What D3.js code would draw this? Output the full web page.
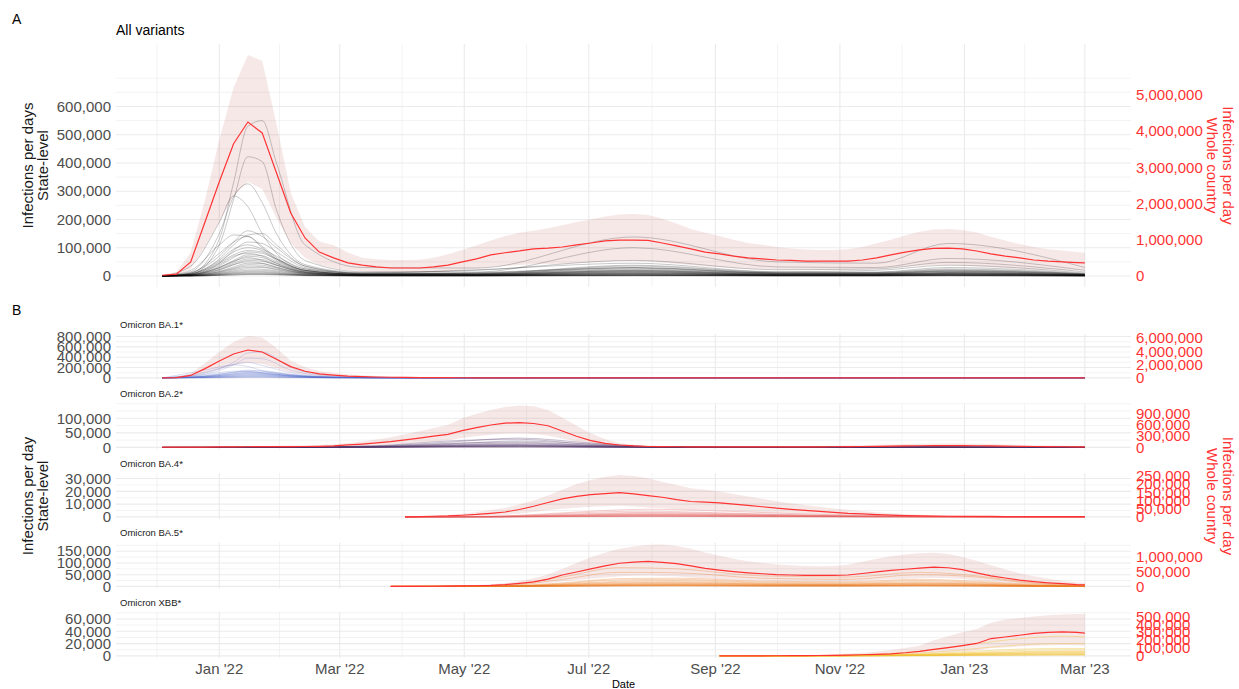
<!DOCTYPE html>
<html>
<head>
<meta charset="utf-8">
<script src="https://cdn.jsdelivr.net/npm/d3@7"></script>
<style>
  body { margin: 0; background: #fff; }
  text { font-family: "Liberation Sans", Arial, sans-serif; }
</style>
</head>
<body>
<svg id="chart" width="1239" height="689"></svg>
<script>
// ---- data -------------------------------------------------------------
// whole country series are in millions per day (weekly, Saturdays from 2021-12-04, last point 2023-03-01)
// state-level series are in thousands per day at their own key dates
const secRatio = 7.8

const xBreaks = ['2022-01-01', '2022-03-01', '2022-05-01', '2022-07-01', '2022-09-01', '2022-11-01', '2023-01-01', '2023-03-01']

const allRed = [
  0.02, 0.05, 0.39, 1.49, 2.6, 3.65, 4.25, 3.95, 2.85, 1.74,
  1.05, 0.66, 0.50, 0.36, 0.30, 0.25, 0.22, 0.22, 0.22, 0.25,
  0.30, 0.39, 0.47, 0.58, 0.64, 0.69, 0.75, 0.77, 0.80, 0.86,
  0.91, 0.97, 0.99, 0.99, 0.98, 0.91, 0.83, 0.75, 0.66, 0.61,
  0.55, 0.50, 0.47, 0.44, 0.43, 0.41, 0.41, 0.41, 0.41, 0.44,
  0.50, 0.58, 0.66, 0.72, 0.76, 0.77, 0.75, 0.69, 0.61, 0.55,
  0.50, 0.44, 0.41, 0.39, 0.37, 0.36
]
const allHigh = [
  0.03, 0.1, 0.65, 2.1, 3.76, 5.2, 6.1, 5.94, 4.2, 2.3,
  1.35, 0.95, 0.85, 0.65, 0.5, 0.46, 0.44, 0.44, 0.45, 0.5,
  0.6, 0.72, 0.85, 0.98, 1.1, 1.19, 1.25, 1.32, 1.4, 1.49,
  1.56, 1.64, 1.70, 1.71, 1.68, 1.58, 1.45, 1.3, 1.19, 1.1,
  1.0, 0.91, 0.86, 0.8, 0.76, 0.73, 0.72, 0.72, 0.74, 0.8,
  0.9, 1.0, 1.12, 1.22, 1.28, 1.3, 1.27, 1.2, 1.08, 0.98,
  0.88, 0.8, 0.74, 0.7, 0.66, 0.64
]
const allLow = [
  0.01, 0.02, 0.2, 0.8, 1.5, 2.2, 2.6, 2.4, 1.6, 0.9,
  0.5, 0.3, 0.22, 0.16, 0.13, 0.11, 0.1, 0.1, 0.1, 0.11,
  0.13, 0.17, 0.2, 0.25, 0.28, 0.3, 0.32, 0.33, 0.34, 0.36,
  0.38, 0.4, 0.41, 0.41, 0.4, 0.37, 0.34, 0.3, 0.27, 0.25,
  0.22, 0.2, 0.19, 0.18, 0.17, 0.17, 0.17, 0.17, 0.17, 0.18,
  0.2, 0.23, 0.26, 0.28, 0.3, 0.3, 0.29, 0.27, 0.24, 0.22,
  0.2, 0.18, 0.17, 0.16, 0.15, 0.15
]
const allStateDates = ['2021-12-04', '2021-12-18', '2022-01-01', '2022-01-08', '2022-01-15', '2022-01-22', '2022-01-29', '2022-02-12', '2022-03-12', '2022-05-07', '2022-07-23', '2022-10-01', '2022-11-19', '2022-12-24', '2023-03-01']
const allStates = [
  [0, 10, 130, 330, 530, 550, 400, 110, 30, 28, 138, 50, 45, 115, 30],
  [0, 6, 110, 270, 422, 405, 234, 55, 15, 14, 100, 32, 30, 62, 20],
  [0, 15, 150, 280, 326, 260, 150, 40, 12, 20, 55, 22, 25, 48, 14],
  [0, 35, 190, 283, 245, 150, 80, 25, 10, 22, 45, 15, 20, 38, 10],
  [0, 12, 70, 120, 160, 140, 100, 35, 10, 10, 38, 14, 14, 30, 8],
  [0, 20, 110, 145, 140, 100, 60, 20, 6, 12, 30, 10, 12, 25, 7],
  [0, 8, 60, 110, 145, 150, 110, 35, 9, 8, 35, 12, 12, 22, 7],
  [0, 10, 80, 120, 140, 105, 65, 20, 6, 10, 28, 10, 10, 20, 6],
  [0, 5, 45, 90, 120, 115, 85, 30, 8, 6, 30, 11, 10, 18, 6],
  [0, 8, 55, 95, 110, 95, 70, 25, 7, 8, 25, 9, 9, 17, 5],
  [0, 6, 50, 85, 100, 90, 60, 20, 6, 7, 22, 8, 8, 16, 5],
  [0, 7, 45, 75, 90, 85, 55, 18, 6, 6, 20, 8, 8, 14, 4],
  [0, 4, 35, 65, 85, 80, 60, 20, 6, 5, 19, 7, 7, 12, 4],
  [0, 5, 40, 70, 80, 70, 45, 15, 5, 6, 18, 6, 6, 12, 4],
  [0, 4, 30, 55, 75, 72, 50, 16, 5, 5, 16, 6, 6, 11, 3],
  [0, 3, 28, 50, 70, 65, 45, 14, 4, 4, 15, 5, 5, 10, 3],
  [0, 4, 30, 52, 65, 55, 38, 12, 4, 4, 14, 5, 5, 9, 3],
  [0, 3, 24, 45, 60, 58, 40, 13, 4, 4, 12, 4, 5, 8, 3],
  [0, 2, 20, 40, 55, 52, 38, 12, 3, 3, 11, 4, 4, 8, 2],
  [0, 3, 22, 40, 50, 45, 30, 10, 3, 3, 10, 4, 4, 7, 2],
  [0, 2, 16, 32, 45, 44, 32, 10, 3, 3, 9, 3, 3, 6, 2],
  [0, 2, 15, 28, 40, 38, 28, 9, 3, 2, 8, 3, 3, 6, 2],
  [0, 2, 13, 25, 35, 33, 24, 8, 2, 2, 7, 3, 3, 5, 2],
  [0, 1, 11, 22, 30, 30, 22, 7, 2, 2, 6, 2, 2, 4, 1],
  [0, 1, 9, 18, 25, 24, 18, 6, 2, 2, 5, 2, 2, 4, 1],
  [0, 1, 8, 15, 20, 20, 15, 5, 1, 1, 4, 2, 2, 3, 1],
  [0, 1, 6, 12, 16, 16, 12, 4, 1, 1, 3, 1, 1, 3, 1],
  [0, 1, 5, 10, 13, 13, 10, 3, 1, 1, 3, 1, 1, 2, 1],
  [0, 0, 4, 8, 10, 10, 8, 3, 1, 1, 2, 1, 1, 2, 0],
  [0, 0, 3, 6, 8, 8, 6, 2, 1, 1, 2, 1, 1, 1, 0],
  [0, 0, 2, 4, 6, 6, 5, 2, 0, 0, 1, 1, 1, 1, 0],
  [0, 0, 2, 3, 5, 5, 4, 1, 0, 0, 1, 0, 0, 1, 0]
]

const ba1Red = [
  0.02, 0.05, 0.37, 1.4, 2.55, 3.6, 4.2, 3.9, 2.8, 1.7,
  1.0, 0.6, 0.42, 0.28, 0.2, 0.14, 0.1, 0.07, 0.05, 0.04,
  0.03, 0.022, 0.016, 0.012, 0.01, 0.009, 0.008, 0.007, 0.006, 0.006,
  0.005, 0.005, 0.005, 0.005, 0.005, 0.005, 0.005, 0.005, 0.005, 0.005,
  0.005, 0.005, 0.005, 0.005, 0.005, 0.005, 0.005, 0.005, 0.005, 0.005,
  0.004, 0.004, 0.004, 0.004, 0.004, 0.004, 0.004, 0.004, 0.004, 0.004,
  0.004, 0.004, 0.004, 0.004, 0.004, 0.004
]
const ba1High = [
  0.03, 0.1, 0.7, 2.2, 3.9, 5.4, 6.3, 6.1, 4.5, 2.6,
  1.6, 1.05, 0.75, 0.55, 0.4, 0.3, 0.22, 0.16, 0.12, 0.09,
  0.07, 0.05, 0.04, 0.03, 0.025, 0.022, 0.02, 0.018, 0.016, 0.015,
  0.014, 0.014, 0.013, 0.013, 0.013, 0.012, 0.012, 0.012, 0.012, 0.012,
  0.012, 0.012, 0.011, 0.011, 0.011, 0.011, 0.011, 0.011, 0.011, 0.011,
  0.01, 0.01, 0.01, 0.01, 0.01, 0.01, 0.01, 0.01, 0.01, 0.01,
  0.01, 0.01, 0.01, 0.01, 0.01, 0.01
]
const ba1Low = [
  0.01, 0.02, 0.18, 0.7, 1.3, 1.9, 2.3, 2.1, 1.45, 0.85,
  0.5, 0.3, 0.2, 0.13, 0.09, 0.06, 0.045, 0.03, 0.022, 0.017,
  0.013, 0.009, 0.007, 0.005, 0.004, 0.004, 0.003, 0.003, 0.003, 0.003,
  0.002, 0.002, 0.002, 0.002, 0.002, 0.002, 0.002, 0.002, 0.002, 0.002,
  0.002, 0.002, 0.002, 0.002, 0.002, 0.002, 0.002, 0.002, 0.002, 0.002,
  0.002, 0.002, 0.002, 0.002, 0.002, 0.002, 0.002, 0.002, 0.002, 0.002,
  0.002, 0.002, 0.002, 0.002, 0.002, 0.002
]
const ba1StateDates = ['2021-12-04', '2021-12-25', '2022-01-08', '2022-01-15', '2022-01-22', '2022-02-05', '2022-02-26', '2022-04-02', '2022-06-04', '2023-03-01']
const ba1States = [
  [0, 90, 300, 480, 500, 200, 40, 5, 1, 0],
  [0, 70, 250, 380, 370, 150, 30, 4, 1, 0],
  [0, 110, 260, 300, 240, 100, 20, 3, 1, 0],
  [0, 150, 250, 220, 140, 60, 15, 2, 0, 0],
  [0, 40, 110, 150, 130, 60, 15, 2, 0, 0],
  [0, 60, 130, 130, 95, 40, 10, 2, 0, 0],
  [0, 30, 100, 130, 135, 70, 15, 2, 0, 0],
  [0, 40, 110, 125, 100, 45, 10, 1, 0, 0],
  [0, 25, 80, 105, 105, 55, 12, 1, 0, 0],
  [0, 30, 80, 100, 90, 45, 10, 1, 0, 0],
  [0, 25, 70, 90, 80, 40, 9, 1, 0, 0],
  [0, 20, 60, 80, 75, 38, 8, 1, 0, 0],
  [0, 18, 55, 70, 65, 33, 7, 1, 0, 0],
  [0, 15, 45, 60, 58, 28, 6, 1, 0, 0],
  [0, 12, 38, 52, 50, 25, 5, 1, 0, 0],
  [0, 10, 30, 42, 40, 20, 4, 0, 0, 0],
  [0, 8, 24, 34, 33, 16, 3, 0, 0, 0],
  [0, 6, 18, 26, 25, 12, 3, 0, 0, 0],
  [0, 4, 12, 18, 17, 8, 2, 0, 0, 0],
  [0, 2, 7, 10, 10, 5, 1, 0, 0, 0]
]

const ba2Red = [
  0.005, 0.006, 0.008, 0.01, 0.012, 0.015, 0.018, 0.02, 0.022, 0.022,
  0.025, 0.03, 0.04, 0.066, 0.09, 0.12, 0.155, 0.2, 0.25, 0.3,
  0.35, 0.45, 0.53, 0.6, 0.65, 0.665, 0.64, 0.58, 0.44, 0.3,
  0.18, 0.11, 0.065, 0.04, 0.025, 0.02, 0.018, 0.016, 0.015, 0.015,
  0.015, 0.015, 0.015, 0.015, 0.015, 0.015, 0.016, 0.018, 0.02, 0.025,
  0.03, 0.035, 0.04, 0.045, 0.048, 0.05, 0.048, 0.045, 0.04, 0.035,
  0.03, 0.025, 0.02, 0.018, 0.015, 0.015
]
const ba2High = [
  0.01, 0.012, 0.015, 0.02, 0.025, 0.03, 0.035, 0.04, 0.045, 0.05,
  0.055, 0.065, 0.085, 0.12, 0.16, 0.21, 0.27, 0.35, 0.43, 0.52,
  0.6, 0.78, 0.9, 1.0, 1.08, 1.12, 1.1, 1.0, 0.8, 0.58,
  0.38, 0.22, 0.12, 0.075, 0.05, 0.04, 0.035, 0.032, 0.03, 0.03,
  0.03, 0.03, 0.03, 0.03, 0.032, 0.034, 0.038, 0.045, 0.05, 0.06,
  0.07, 0.08, 0.09, 0.1, 0.105, 0.11, 0.105, 0.1, 0.09, 0.08,
  0.07, 0.06, 0.05, 0.045, 0.04, 0.04
]
const ba2Low = [
  0.002, 0.003, 0.004, 0.005, 0.006, 0.007, 0.008, 0.009, 0.01, 0.01,
  0.012, 0.014, 0.02, 0.032, 0.045, 0.06, 0.08, 0.1, 0.13, 0.16,
  0.19, 0.25, 0.3, 0.34, 0.37, 0.38, 0.36, 0.32, 0.24, 0.16,
  0.09, 0.055, 0.032, 0.02, 0.012, 0.01, 0.008, 0.007, 0.007, 0.007,
  0.007, 0.007, 0.007, 0.007, 0.007, 0.007, 0.008, 0.009, 0.01, 0.012,
  0.014, 0.016, 0.018, 0.02, 0.022, 0.022, 0.022, 0.02, 0.018, 0.016,
  0.014, 0.012, 0.01, 0.008, 0.007, 0.007
]
const ba2StateDates = ['2021-12-04', '2022-02-05', '2022-03-19', '2022-04-23', '2022-05-28', '2022-07-02', '2022-08-06', '2022-10-01', '2022-12-10', '2023-03-01']
const ba2States = [
  [0, 1, 5, 18, 32, 15, 2, 1, 3, 1],
  [0, 1, 6, 22, 28, 10, 2, 1, 2, 1],
  [0, 1, 3, 12, 22, 12, 2, 1, 2, 1],
  [0, 1, 4, 14, 18, 8, 1, 1, 2, 0],
  [0, 1, 3, 10, 15, 7, 1, 0, 1, 0],
  [0, 0, 2, 8, 12, 6, 1, 0, 1, 0],
  [0, 0, 2, 7, 10, 5, 1, 0, 1, 0],
  [0, 0, 2, 6, 8, 4, 1, 0, 1, 0],
  [0, 0, 1, 5, 7, 3, 1, 0, 1, 0],
  [0, 0, 1, 4, 6, 3, 0, 0, 0, 0],
  [0, 0, 1, 3, 5, 2, 0, 0, 0, 0],
  [0, 0, 1, 3, 4, 2, 0, 0, 0, 0],
  [0, 0, 1, 2, 3, 1, 0, 0, 0, 0],
  [0, 0, 0, 2, 2, 1, 0, 0, 0, 0],
  [0, 0, 0, 1, 1, 1, 0, 0, 0, 0]
]

const ba4Red = [
  0.0, 0.002, 0.004, 0.006, 0.01, 0.015, 0.022, 0.03, 0.045, 0.065,
  0.088, 0.11, 0.125, 0.136, 0.142, 0.148, 0.14, 0.13, 0.12, 0.105,
  0.094, 0.09, 0.085, 0.078, 0.07, 0.062, 0.053, 0.046, 0.04, 0.034,
  0.028, 0.022, 0.018, 0.014, 0.011, 0.008, 0.006, 0.005, 0.004, 0.003,
  0.003, 0.003, 0.002, 0.002, 0.002, 0.002, 0.002, 0.002, 0.002
]
const ba4High = [
  0.001, 0.004, 0.008, 0.013, 0.02, 0.03, 0.042, 0.055, 0.075, 0.1,
  0.13, 0.165, 0.2, 0.225, 0.245, 0.255, 0.25, 0.235, 0.215, 0.195,
  0.175, 0.165, 0.155, 0.14, 0.125, 0.11, 0.095, 0.083, 0.072, 0.062,
  0.052, 0.043, 0.035, 0.028, 0.022, 0.017, 0.013, 0.01, 0.008, 0.007,
  0.006, 0.006, 0.005, 0.005, 0.005, 0.004, 0.004, 0.004, 0.004
]
const ba4Low = [
  0.0, 0.001, 0.002, 0.003, 0.004, 0.006, 0.009, 0.013, 0.02, 0.03,
  0.04, 0.05, 0.056, 0.062, 0.065, 0.068, 0.064, 0.058, 0.053, 0.047,
  0.042, 0.04, 0.038, 0.035, 0.031, 0.027, 0.023, 0.02, 0.017, 0.015,
  0.012, 0.01, 0.008, 0.006, 0.005, 0.004, 0.003, 0.002, 0.002, 0.001,
  0.001, 0.001, 0.001, 0.001, 0.001, 0.001, 0.001, 0.001, 0.001
]
const ba4StateDates = ['2022-04-02', '2022-05-14', '2022-06-11', '2022-07-09', '2022-07-30', '2022-08-27', '2022-10-01', '2022-11-12', '2023-01-07', '2023-03-01']
const ba4States = [
  [0, 0.5, 2.5, 5, 6, 5, 3, 1.2, 0.3, 0.1],
  [0, 0.4, 2, 4, 4.5, 3.5, 2, 0.8, 0.2, 0.1],
  [0, 0.3, 1.5, 3, 3.5, 3, 1.8, 0.7, 0.2, 0.1],
  [0, 0.3, 1.2, 2.5, 3, 2.5, 1.5, 0.6, 0.2, 0],
  [0, 0.2, 1, 2, 2.5, 2, 1.2, 0.5, 0.1, 0],
  [0, 0.2, 0.8, 1.7, 2, 1.7, 1, 0.4, 0.1, 0],
  [0, 0.1, 0.7, 1.5, 1.8, 1.5, 0.9, 0.3, 0.1, 0],
  [0, 0.1, 0.6, 1.2, 1.5, 1.2, 0.7, 0.3, 0.1, 0],
  [0, 0.1, 0.5, 1, 1.2, 1, 0.6, 0.2, 0.1, 0],
  [0, 0.1, 0.4, 0.8, 1, 0.8, 0.5, 0.2, 0, 0],
  [0, 0, 0.3, 0.6, 0.8, 0.6, 0.4, 0.1, 0, 0],
  [0, 0, 0.2, 0.5, 0.6, 0.5, 0.3, 0.1, 0, 0],
  [0, 0, 0.2, 0.3, 0.4, 0.3, 0.2, 0.1, 0, 0],
  [0, 0, 0.1, 0.2, 0.3, 0.2, 0.1, 0, 0, 0]
]

const ba5Red = [
  0.0, 0.002, 0.004, 0.006, 0.01, 0.015, 0.022, 0.035, 0.06, 0.1,
  0.15, 0.24, 0.38, 0.48, 0.58, 0.68, 0.77, 0.81, 0.83, 0.8,
  0.76, 0.68, 0.6, 0.54, 0.49, 0.45, 0.42, 0.39, 0.38, 0.37,
  0.37, 0.37, 0.38, 0.43, 0.48, 0.53, 0.57, 0.61, 0.64, 0.62,
  0.56, 0.45, 0.35, 0.28, 0.21, 0.16, 0.12, 0.09, 0.06, 0.05
]
const ba5High = [
  0.001, 0.004, 0.008, 0.012, 0.02, 0.03, 0.045, 0.07, 0.11, 0.18,
  0.27, 0.4, 0.58, 0.78, 0.97, 1.12, 1.25, 1.33, 1.38, 1.39,
  1.34, 1.25, 1.13, 1.02, 0.92, 0.84, 0.78, 0.73, 0.7, 0.68,
  0.67, 0.68, 0.72, 0.82, 0.92, 1.0, 1.06, 1.1, 1.12, 1.08,
  0.98, 0.85, 0.7, 0.56, 0.44, 0.34, 0.26, 0.19, 0.14, 0.11
]
const ba5Low = [
  0.0, 0.001, 0.002, 0.003, 0.004, 0.006, 0.009, 0.015, 0.026, 0.044,
  0.066, 0.105, 0.165, 0.21, 0.255, 0.3, 0.34, 0.355, 0.365, 0.35,
  0.335, 0.3, 0.265, 0.24, 0.215, 0.2, 0.185, 0.172, 0.168, 0.163,
  0.163, 0.163, 0.168, 0.19, 0.21, 0.235, 0.25, 0.27, 0.28, 0.275,
  0.245, 0.2, 0.155, 0.123, 0.092, 0.07, 0.053, 0.04, 0.026, 0.022
]
const ba5StateDates = ['2022-03-26', '2022-05-21', '2022-06-18', '2022-07-16', '2022-08-13', '2022-09-24', '2022-11-05', '2022-12-10', '2023-01-07', '2023-02-04', '2023-03-01']
const ba5States = [
  [0, 5, 40, 80, 75, 45, 40, 60, 45, 15, 6],
  [0, 3, 30, 60, 58, 35, 30, 50, 40, 12, 5],
  [0, 2, 15, 33, 35, 22, 20, 30, 22, 8, 3],
  [0, 2, 12, 28, 30, 18, 16, 25, 18, 6, 2],
  [0, 1, 10, 22, 25, 15, 13, 20, 15, 5, 2],
  [0, 1, 8, 18, 20, 12, 10, 16, 12, 4, 2],
  [0, 1, 7, 15, 17, 10, 9, 14, 10, 3, 1],
  [0, 1, 6, 12, 14, 9, 8, 12, 9, 3, 1],
  [0, 1, 5, 10, 12, 8, 7, 10, 8, 2, 1],
  [0, 0, 4, 8, 10, 6, 5, 8, 6, 2, 1],
  [0, 0, 3, 7, 8, 5, 4, 7, 5, 2, 1],
  [0, 0, 3, 6, 7, 4, 4, 6, 4, 1, 1],
  [0, 0, 2, 5, 6, 4, 3, 5, 3, 1, 0],
  [0, 0, 2, 4, 5, 3, 3, 4, 3, 1, 0],
  [0, 0, 1, 3, 4, 2, 2, 3, 2, 1, 0],
  [0, 0, 1, 2, 3, 2, 2, 2, 2, 0, 0],
  [0, 0, 1, 2, 2, 1, 1, 2, 1, 0, 0]
]

const xbbRed = [
  0.0, 0.0005, 0.001, 0.0015, 0.002, 0.003, 0.004, 0.005, 0.007, 0.01,
  0.015, 0.02, 0.027, 0.04, 0.058, 0.083, 0.105, 0.13, 0.158, 0.22,
  0.24, 0.262, 0.285, 0.298, 0.305, 0.298, 0.29
]
const xbbHigh = [
  0.001, 0.002, 0.003, 0.004, 0.006, 0.008, 0.011, 0.015, 0.02, 0.03,
  0.04, 0.055, 0.075, 0.1, 0.13, 0.2, 0.25, 0.3, 0.34, 0.42,
  0.46, 0.48, 0.5, 0.515, 0.525, 0.53, 0.53
]
const xbbLow = [
  0.0, 0.0002, 0.0004, 0.0006, 0.001, 0.0013, 0.0018, 0.0023, 0.003, 0.0045,
  0.007, 0.009, 0.012, 0.018, 0.026, 0.037, 0.047, 0.058, 0.071, 0.099,
  0.108, 0.118, 0.128, 0.134, 0.137, 0.134, 0.13
]
const xbbStateDates = ['2022-09-03', '2022-10-15', '2022-11-19', '2022-12-17', '2023-01-07', '2023-01-28', '2023-02-18', '2023-03-01']
const xbbStates = [
  [0, 0.5, 3, 10, 20, 28, 32, 31],
  [0, 0.3, 2, 6, 12, 18, 20, 20],
  [0, 0.2, 1, 4, 8, 11, 12, 12],
  [0, 0.2, 1, 3, 6, 9, 10, 10],
  [0, 0.1, 1, 3, 5, 7, 8, 8],
  [0, 0.1, 0.8, 2, 4, 6, 7, 7],
  [0, 0.1, 0.6, 2, 3.5, 5, 6, 6],
  [0, 0.1, 0.5, 1.5, 3, 4, 5, 5],
  [0, 0, 0.4, 1.2, 2.5, 3.5, 4, 4],
  [0, 0, 0.3, 1, 2, 3, 3, 3],
  [0, 0, 0.2, 0.8, 1.5, 2, 2.5, 2.5],
  [0, 0, 0.2, 0.5, 1, 1.5, 2, 2],
  [0, 0, 0.1, 0.3, 0.7, 1, 1.2, 1.2]
]

const allLeftTicks = [0, 100000, 200000, 300000, 400000, 500000, 600000]
const allRightTicks = [0, 1000000, 2000000, 3000000, 4000000, 5000000]

// ---- layout -----------------------------------------------------------
const svg = d3.select('#chart')
const parse = d3.timeParse('%Y-%m-%d')
const fmt = d3.format(',')
const red = '#ff3333'
const greyText = '#4d4d4d'
const plotLeft = 116
const plotRight = 1131

const weeks = d3.timeSaturday.range(parse('2021-12-04'), parse('2023-02-26')).concat([parse('2023-03-01')])
const xExtent = d3.extent(weeks)
const xPad = (xExtent[1] - xExtent[0]) * 0.05
const x = d3.scaleTime()
  .domain([new Date(+xExtent[0] - xPad), new Date(+xExtent[1] + xPad)])
  .range([plotLeft, plotRight])

const xMajor = xBreaks.map(parse)
const xExt = [d3.timeMonth.offset(xMajor[0], -2), ...xMajor, d3.timeMonth.offset(xMajor[xMajor.length - 1], 2)]
const xMinor = d3.pairs(xExt).map(([a, b]) => new Date((+a + +b) / 2))
  .concat(xExt)
  .filter(d => !xMajor.some(m => +m === +d))
  .filter(d => x(d) >= plotLeft && x(d) <= plotRight)

const panels = [
  { top: 44, height: 243, start: 0, red: allRed, low: allLow, high: allHigh,
    stateDates: allStateDates, states: allStates, color: '#000000', opacity: 0.21,
    leftTicks: allLeftTicks, rightTicks: allRightTicks },
  { title: 'Omicron BA.1*', start: 0, red: ba1Red, low: ba1Low, high: ba1High,
    stateDates: ba1StateDates, states: ba1States, color: '#4a64c8', opacity: 0.2,
    leftTicks: [0, 200000, 400000, 600000, 800000], rightTicks: [0, 2000000, 4000000, 6000000] },
  { title: 'Omicron BA.2*', start: 0, red: ba2Red, low: ba2Low, high: ba2High,
    stateDates: ba2StateDates, states: ba2States, color: '#4b2d63', opacity: 0.3,
    leftTicks: [0, 50000, 100000], rightTicks: [0, 300000, 600000, 900000] },
  { title: 'Omicron BA.4*', start: 17, red: ba4Red, low: ba4Low, high: ba4High,
    stateDates: ba4StateDates, states: ba4States, color: '#e06060', opacity: 0.3,
    leftTicks: [0, 10000, 20000, 30000], rightTicks: [0, 50000, 100000, 150000, 200000, 250000] },
  { title: 'Omicron BA.5*', start: 16, red: ba5Red, low: ba5Low, high: ba5High,
    stateDates: ba5StateDates, states: ba5States, color: '#e87a1e', opacity: 0.32,
    leftTicks: [0, 50000, 100000, 150000], rightTicks: [0, 500000, 1000000] },
  { title: 'Omicron XBB*', start: 39, red: xbbRed, low: xbbLow, high: xbbHigh,
    stateDates: xbbStateDates, states: xbbStates, color: '#f0bc2a', opacity: 0.38,
    leftTicks: [0, 20000, 40000, 60000], rightTicks: [0, 100000, 200000, 300000, 400000, 500000] }
]
panels.slice(1).forEach((p, i) => { p.top = 334 + i * 69.5; p.height = 46 })

function drawPanel (p) {
  const g = svg.append('g').attr('class', 'panel')
  const national = p.red.map((v, i) => ({ date: weeks[p.start + i], mid: v * 1e6, low: p.low[i] * 1e6, high: p.high[i] * 1e6 }))
  const stateSeries = p.states.map(vals => vals.map((v, j) => ({ date: parse(p.stateDates[j]), value: v * 1000 })))

  const yMax = Math.max(d3.max(p.states.flat()) * 1000, d3.max(national, d => d.high) / secRatio)
  const y = d3.scaleLinear()
    .domain([-0.05 * yMax, 1.05 * yMax])
    .range([p.top + p.height, p.top])
  const dom = y.domain()

  // grid (ggplot style: minor lines between and one step beyond the breaks)
  const step = p.leftTicks[1] - p.leftTicks[0]
  const yExt = [p.leftTicks[0] - step, ...p.leftTicks, p.leftTicks[p.leftTicks.length - 1] + step]
  const yMinor = d3.pairs(yExt).map(([a, b]) => (a + b) / 2).concat(yExt)
    .filter(v => !p.leftTicks.includes(v) && v >= dom[0] && v <= dom[1])
  const yMajor = p.leftTicks.filter(v => v >= dom[0] && v <= dom[1])

  const grid = g.append('g').attr('stroke', '#ebebeb')
  grid.selectAll('line.ymin').data(yMinor).join('line')
    .attr('x1', plotLeft).attr('x2', plotRight)
    .attr('y1', d => y(d)).attr('y2', d => y(d))
    .attr('stroke-width', 0.6)
  grid.selectAll('line.xmin').data(xMinor).join('line')
    .attr('x1', d => x(d)).attr('x2', d => x(d))
    .attr('y1', p.top).attr('y2', p.top + p.height)
    .attr('stroke-width', 0.6)
  grid.selectAll('line.ymaj').data(yMajor).join('line')
    .attr('x1', plotLeft).attr('x2', plotRight)
    .attr('y1', d => y(d)).attr('y2', d => y(d))
    .attr('stroke-width', 1.1)
  grid.selectAll('line.xmaj').data(xMajor).join('line')
    .attr('x1', d => x(d)).attr('x2', d => x(d))
    .attr('y1', p.top).attr('y2', p.top + p.height)
    .attr('stroke-width', 1.1)

  // uncertainty ribbon for the whole country (secondary axis units)
  const area = d3.area()
    .x(d => x(d.date))
    .y0(d => y(d.low / secRatio))
    .y1(d => y(d.high / secRatio))
  g.append('path').datum(national)
    .attr('d', area)
    .attr('fill', 'rgba(178,34,34,0.1)')

  // state lines
  const stateLine = d3.line()
    .x(d => x(d.date))
    .y(d => y(d.value))
    .curve(d3.curveMonotoneX)
  g.append('g').selectAll('path').data(stateSeries).join('path')
    .attr('d', stateLine)
    .attr('fill', 'none')
    .attr('stroke', p.color)
    .attr('stroke-opacity', p.opacity)
    .attr('stroke-width', 1)

  // whole-country line
  const redLine = d3.line()
    .x(d => x(d.date))
    .y(d => y(d.mid / secRatio))
  g.append('path').datum(national)
    .attr('d', redLine)
    .attr('fill', 'none')
    .attr('stroke', red)
    .attr('stroke-width', 1.2)

  // left axis labels
  g.append('g').selectAll('text').data(yMajor).join('text')
    .attr('x', plotLeft - 5)
    .attr('y', d => y(d))
    .attr('dy', '0.35em')
    .attr('text-anchor', 'end')
    .attr('font-size', 15)
    .attr('fill', greyText)
    .text(d => fmt(d))

  // right (secondary) axis labels
  g.append('g').selectAll('text').data(p.rightTicks).join('text')
    .attr('x', plotRight + 5)
    .attr('y', d => y(d / secRatio))
    .attr('dy', '0.35em')
    .attr('text-anchor', 'start')
    .attr('font-size', 15)
    .attr('fill', red)
    .text(d => fmt(d))

  if (p.title) {
    g.append('text')
      .attr('x', plotLeft + 4)
      .attr('y', p.top - 9.5)
      .attr('dy', '0.35em')
      .attr('font-size', 9.5)
      .attr('fill', '#1a1a1a')
      .text(p.title)
  }
}

panels.forEach(drawPanel)

// ---- titles and labels --------------------------------------------------
function twoLineTitle (cx, cy, angle, lines, color) {
  lines.forEach((t, i) => {
    const off = angle < 0 ? i * 15 : -i * 16
    svg.append('text')
      .attr('transform', `translate(${cx + off},${cy}) rotate(${angle})`)
      .attr('dy', '0.35em')
      .attr('text-anchor', 'middle')
      .attr('font-size', 15)
      .attr('fill', color)
      .text(t)
  })
}

const bTop = panels[1].top
const bBottom = panels[5].top + panels[5].height
twoLineTitle(28, 44 + 243 / 2, -90, ['Infections per days', 'State-level'], '#1a1a1a')
twoLineTitle(1228, 44 + 243 / 2, 90, ['Infections per day', 'Whole country'], red)
twoLineTitle(28, (bTop + bBottom) / 2, -90, ['Infections per day', 'State-level'], '#1a1a1a')
twoLineTitle(1228, (bTop + bBottom) / 2, 90, ['Infections per day', 'Whole country'], red)

svg.append('text').attr('x', 12).attr('y', 19).attr('dy', '0.35em')
  .attr('font-size', 14).attr('fill', '#000').text('A')
svg.append('text').attr('x', 12).attr('y', 310).attr('dy', '0.35em')
  .attr('font-size', 14).attr('fill', '#000').text('B')
svg.append('text').attr('x', plotLeft).attr('y', 30).attr('dy', '0.35em')
  .attr('font-size', 14).attr('fill', '#000').text('All variants')

// x axis (bottom facet only)
const xFmt = d3.timeFormat("%b '%y")
svg.append('g').selectAll('text').data(xMajor).join('text')
  .attr('x', d => x(d))
  .attr('y', 669)
  .attr('dy', '0.35em')
  .attr('text-anchor', 'middle')
  .attr('font-size', 15)
  .attr('fill', greyText)
  .text(d => xFmt(d))

svg.append('text')
  .attr('x', (plotLeft + plotRight) / 2)
  .attr('y', 684)
  .attr('dy', '0.35em')
  .attr('text-anchor', 'middle')
  .attr('font-size', 11)
  .attr('fill', '#000')
  .text('Date')
</script>
</body>
</html>
